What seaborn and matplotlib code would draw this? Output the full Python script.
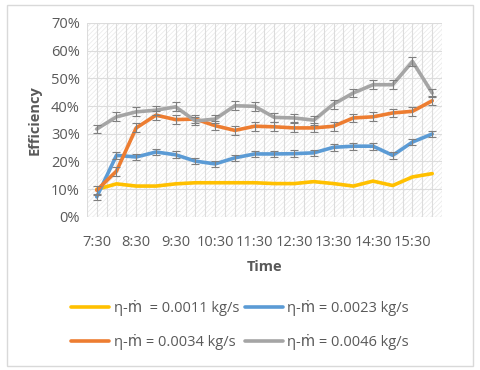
import numpy as np
import pandas as pd
import matplotlib
matplotlib.use('Agg')
import matplotlib.pyplot as plt
from matplotlib.patches import Rectangle
import seaborn as sns

# Datos
times = ['7:30', '8:00', '8:30', '9:00', '9:30', '10:00', '10:30', '11:00', '11:30',
         '12:00', '12:30', '13:00', '13:30', '14:00', '14:30', '15:00', '15:30', '16:00']
eff_0011 = [9.9, 11.9, 11.1, 11.1, 11.9, 12.3, 12.3, 12.3, 12.3,
            12.0, 12.0, 12.7, 12.0, 11.1, 12.9, 11.3, 14.4, 15.6]
eff_0023 = [7.2, 22.2, 21.6, 23.4, 22.4, 20.1, 19.1, 21.3, 22.7,
            22.7, 22.8, 23.1, 25.1, 25.5, 25.5, 22.2, 27.0, 29.9]
eff_0034 = [9.6, 16.5, 32.1, 36.7, 35.1, 35.3, 32.9, 31.2, 32.7,
            32.5, 32.1, 32.1, 32.7, 35.7, 36.1, 37.5, 38.1, 41.9]
eff_0046 = [31.7, 36.1, 37.9, 38.5, 39.7, 34.6, 35.3, 40.1, 39.9,
            35.9, 35.7, 34.9, 40.7, 44.7, 47.7, 47.7, 56.1, 44.7]
err_0023 = 1.2
err_0034 = 1.6
err_0046 = 1.6
labels = ['η-ṁ  = 0.0011 kg/s', 'η-ṁ = 0.0023 kg/s',
          'η-ṁ = 0.0034 kg/s', 'η-ṁ = 0.0046 kg/s']
colors = ['#FFC000', '#5B9BD5', '#ED7D31', '#A5A5A5']

sns.set_style('white')
plt.rcParams['font.family'] = ['Open Sans', 'DejaVu Sans']

series = [eff_0011, eff_0023, eff_0034, eff_0046]
errs = [None, err_0023, err_0034, err_0046]
x = np.arange(len(times))
df = pd.concat([pd.DataFrame({'x': x, 'y': s, 'serie': lab})
                for s, lab in zip(series, labels)])

fig = plt.figure(figsize=(4.8, 3.7), dpi=100)
ax = fig.add_axes([0.181, 0.414, 0.74, 0.524])

# fondo rayado estilo Excel
plt.rcParams['hatch.linewidth'] = 0.5
ax.add_patch(Rectangle((0, 0), 1, 1, transform=ax.transAxes, facecolor='white',
                       edgecolor='#e8e8e8', hatch='///////', lw=0, zorder=0))
for v in np.arange(-0.5, len(times), 0.5):
    ax.axvline(v, color='#dcdcdc', lw=0.8, zorder=0.5)
for h in range(0, 71, 10):
    ax.axhline(h, color='#dcdcdc', lw=0.8, zorder=0.5)

sns.lineplot(data=df, x='x', y='y', hue='serie', palette=colors, lw=2.6,
             sort=False, ax=ax, legend=False, zorder=3)
for s, e in zip(series, errs):
    if e is not None:
        ax.errorbar(x, s, yerr=e, fmt='none', ecolor='#7f7f7f', elinewidth=0.8,
                    capsize=3, capthick=0.8, zorder=4)

ax.set_xlim(-0.5, len(times) - 0.5)
ax.set_ylim(0, 70)
ax.set_xticks(x[::2])
ax.set_xticklabels(times[::2])
ax.set_yticks(range(0, 71, 10))
ax.set_yticklabels([f'{v}%' for v in range(0, 71, 10)])
ax.tick_params(colors='#595959', labelsize=10.5, length=0, pad=5)
ax.tick_params(axis='x', pad=13)
ax.set_xlabel('Time', fontsize=10.5, fontweight='bold', color='#595959', labelpad=7)
ax.set_ylabel('Efficiency', fontsize=10.5, fontweight='bold', color='#595959', labelpad=7)
for sp in ax.spines.values():
    sp.set_visible(False)

# orden de la leyenda por filas como en Excel
order = [0, 2, 1, 3]
handles = [plt.Line2D([], [], color=colors[i], lw=2.6) for i in order]
fig.legend(handles, [labels[i] for i in order], loc='center',
           bbox_to_anchor=(0.5, 0.122), ncol=2, frameon=False, fontsize=10.5,
           labelcolor='#595959', handlelength=2.6, handletextpad=0.3,
           columnspacing=0.4, labelspacing=1.2)

# borde del area del grafico
fig.patches.append(Rectangle((0.015, 0.012), 0.97, 0.975, transform=fig.transFigure,
                             fill=False, edgecolor='#d9d9d9', lw=1))

plt.savefig('out.png', dpi=100)
